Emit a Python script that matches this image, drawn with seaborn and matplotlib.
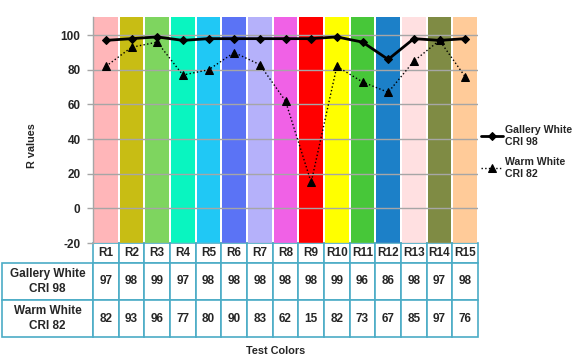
import matplotlib
matplotlib.use("Agg")
import matplotlib.pyplot as plt
import seaborn as sns
import pandas as pd
import numpy as np

categories = ["R1", "R2", "R3", "R4", "R5", "R6", "R7", "R8", "R9", "R10",
              "R11", "R12", "R13", "R14", "R15"]
gallery_white = [97, 98, 99, 97, 98, 98, 98, 98, 98, 99, 96, 86, 98, 97, 98]
warm_white = [82, 93, 96, 77, 80, 90, 83, 62, 15, 82, 73, 67, 85, 97, 76]
band_colors = ["#FFB6B9", "#C8BD14", "#7ED55F", "#09F5C0", "#20C8F5", "#5B73F5",
               "#B5B1FA", "#F061E6", "#FF0000", "#FFFF00", "#47C739", "#1C80C8",
               "#FFE0E1", "#7F8B44", "#FFCB99"]
series_names = ["Gallery White\nCRI 98", "Warm White\nCRI 82"]
row_labels = ["Gallery White\nCRI 98", "Warm White\nCRI 82"]
y_ticks = [-20, 0, 20, 40, 60, 80, 100]

sns.set_theme(style="white")
plt.rcParams['font.family'] = ['Liberation Sans', 'DejaVu Sans']
plt.rcParams['font.weight'] = 'bold'
FS_TICK = 8.5
FS_TABLE = 8.5
FS_LEG = 7.6
FS_LAB = 7.8

fig = plt.figure(figsize=(5.83, 3.64), dpi=100)
W, H = 583, 364
left, right, top, bottom = 93, 478, 17, 243
ax = fig.add_axes([left / W, 1 - bottom / H, (right - left) / W, (bottom - top) / H])

ymin, ymax = -20, 110.5
x = np.arange(len(categories))

# colored background bands
ax.bar(x, [ymax - ymin] * len(x), bottom=ymin, width=0.93, color=band_colors,
       edgecolor="none", zorder=1)

df = pd.DataFrame({"x": np.concatenate([x, x]),
                   "value": gallery_white + warm_white,
                   "series": [series_names[0]] * len(x) + [series_names[1]] * len(x)})

sns.lineplot(data=df[df.series == series_names[0]], x="x", y="value", ax=ax,
             color="black", linewidth=2, marker="D", markersize=4.5,
             markeredgecolor="black", label=series_names[0], zorder=5)
sns.lineplot(data=df[df.series == series_names[1]], x="x", y="value", ax=ax,
             color="black", linewidth=1, linestyle=":", marker="^", markersize=6,
             markeredgecolor="black", label=series_names[1], zorder=5)

ax.set_xlim(-0.5, len(x) - 0.5)
ax.set_ylim(ymin, ymax)
ax.set_yticks(y_ticks)
ax.set_yticklabels([str(t) for t in y_ticks], fontsize=FS_TICK, fontweight="bold")
ax.set_xticks([])
ax.set_xlabel("")
ax.set_ylabel("")

ax.set_axisbelow(False)
ax.grid(axis="y", color="#A6A6A6", linewidth=1, zorder=2.5)
ax.tick_params(axis="y", which="both", left=True, length=4, color="#A6A6A6",
               width=1, pad=5)
for s in ["top", "right", "bottom"]:
    ax.spines[s].set_visible(False)
ax.spines["left"].set_color("#A6A6A6")
ax.spines["left"].set_linewidth(1)

fig.text(32 / W, 1 - 146 / H, "R values", rotation=90, ha="center", va="center",
         fontsize=FS_LAB, fontweight="bold")

# legend
ax.get_legend().remove()
handles, labels = ax.get_legend_handles_labels()
leg = fig.legend(handles, labels, loc="center left",
                 bbox_to_anchor=(481 / W, 1 - 152 / H), frameon=False,
                 borderpad=0, borderaxespad=0, handlelength=2.1,
                 handletextpad=0.2, labelspacing=1.0,
                 prop={"weight": "bold", "size": FS_LEG})

# data table
cell_text = [[str(v) for v in gallery_white], [str(v) for v in warm_white]]
ax_h = bottom - top
label_w = (93 - 12) / (right - left)
tbl_bbox = [0, -(337 - bottom) / ax_h, 1, (337 - bottom) / ax_h]
tbl = ax.table(cellText=cell_text, rowLabels=row_labels, colLabels=categories,
               cellLoc="center", rowLoc="center", bbox=tbl_bbox)
tbl.auto_set_font_size(False)
tbl.set_fontsize(FS_TABLE)
edge = "#4BACC6"
col_w = 1.0 / len(categories)
for (r, c), cell in tbl.get_celld().items():
    cell.set_edgecolor(edge)
    cell.set_linewidth(1.2)
    cell.get_text().set_fontweight("bold")
    cell.get_text().set_linespacing(1.3)
    cell.set_width(label_w if c == -1 else col_w)
    cell.set_height((20 if r == 0 else 37) / ax_h)

fig.text(276 / W, 1 - 351 / H, "Test Colors", ha="center", va="center",
         fontsize=FS_LAB, fontweight="bold")

fig.savefig("out.png", dpi=100)
